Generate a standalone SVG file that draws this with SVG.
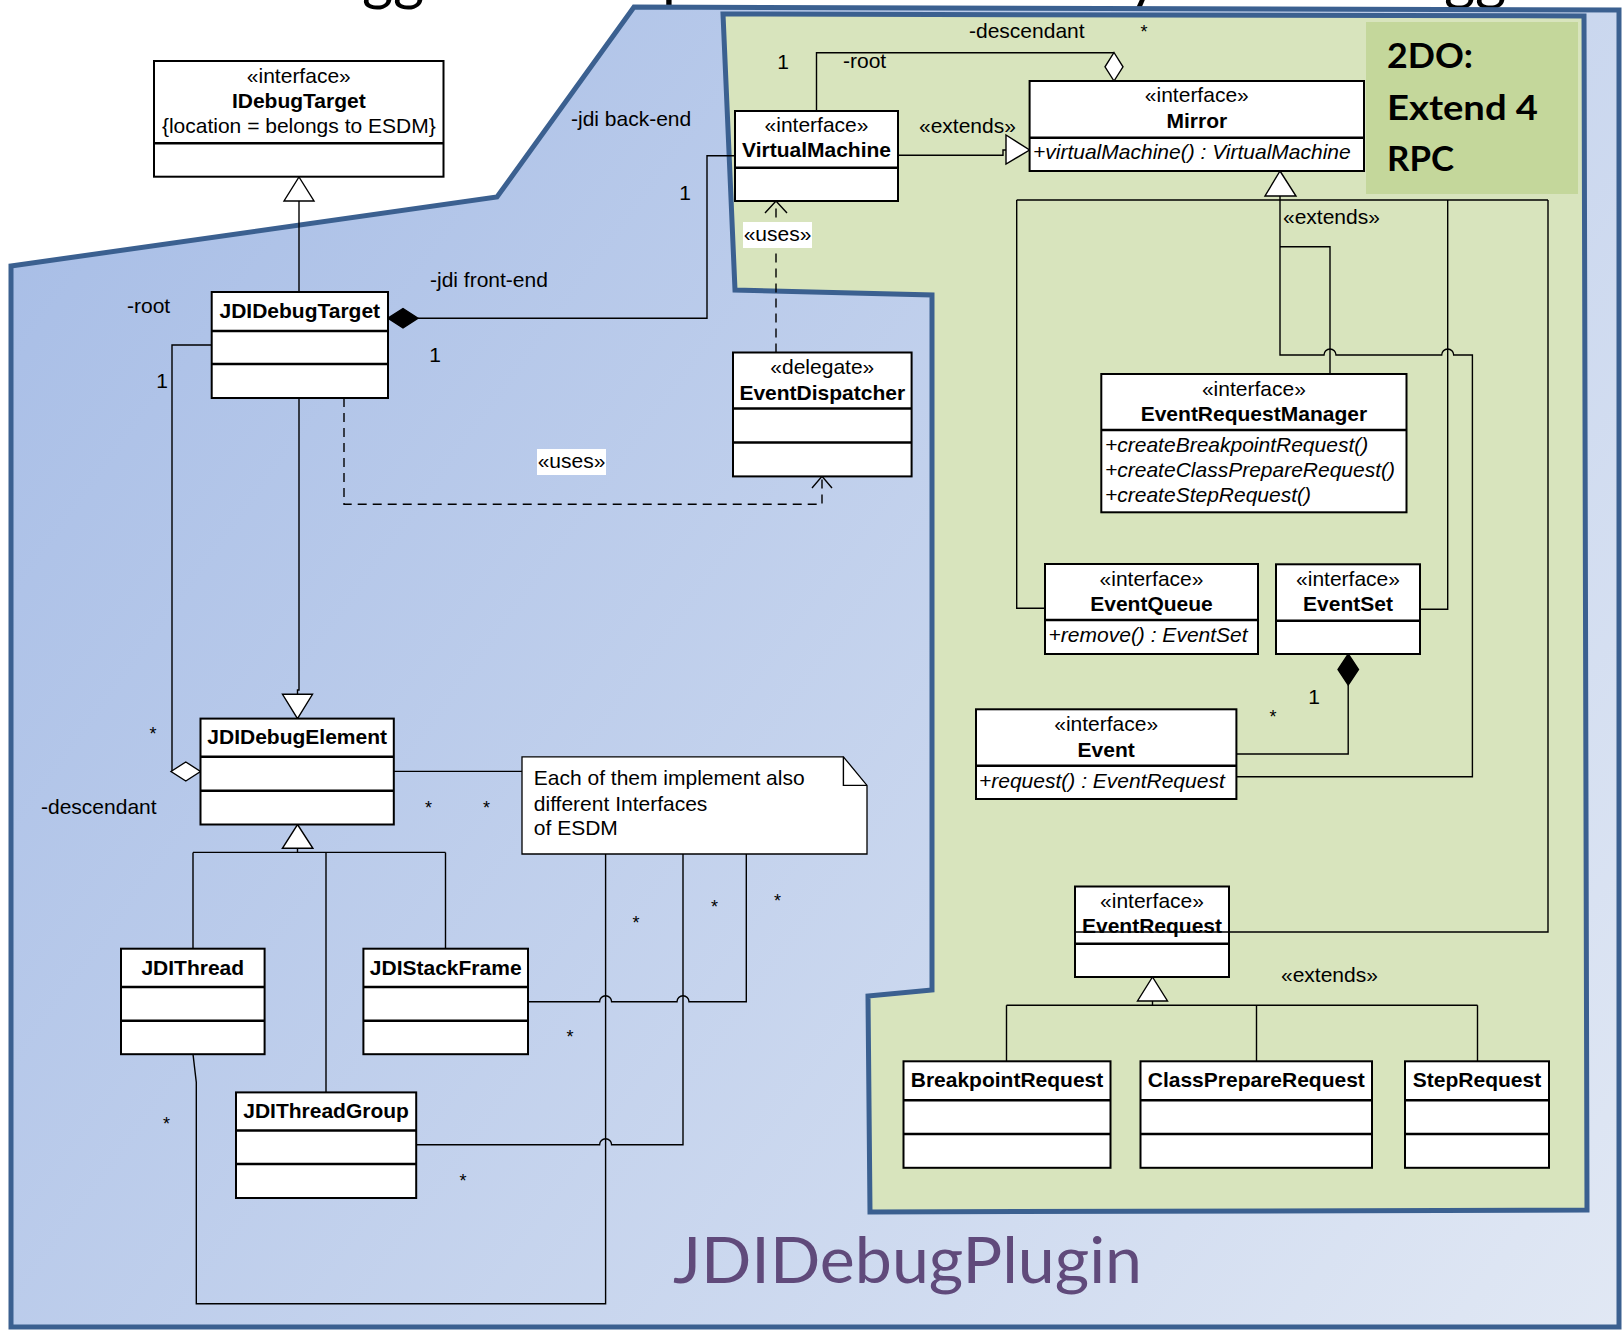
<svg xmlns="http://www.w3.org/2000/svg" width="1623" height="1330" viewBox="0 0 1623 1330">
  <defs>
    <linearGradient id="pkgBlue" gradientUnits="userSpaceOnUse" x1="0" y1="150" x2="1623" y2="1330">
      <stop offset="0" stop-color="#a7bde6"/>
      <stop offset="1" stop-color="#e1e8f4"/>
    </linearGradient>
    <style>
      .t{font-family:"Liberation Sans",Arial,Helvetica,sans-serif;font-size:21px;fill:#000}
      .b{font-weight:bold}
      .i{font-style:italic}
      .m{text-anchor:middle}
      .star{font-size:18px}
      .box{fill:#fff;stroke:#000;stroke-width:2}
      .sep{stroke:#000;stroke-width:2.5}
      .ln{fill:none;stroke:#000;stroke-width:1.4}
      .dash{stroke-dasharray:9 6}
      .hollow{fill:#fff;stroke:#000;stroke-width:1.4}
      .solid{fill:#000;stroke:#000;stroke-width:1.4}
      .pkg{stroke:#3b6090;stroke-width:5;stroke-linejoin:miter}
      .lab{fill:#fff}
      .big{font-family:Lato,"Open Sans",sans-serif}
    </style>
  </defs>

  <rect width="1623" height="1330" fill="#fff"/>

  <!-- heading, clipped by the top edge -->
  <g id="title" class="big" font-size="60" fill="#000">
    <text x="362" y="-1">gg</text>
    <text x="662" y="-1">p</text>
    <text x="1128" y="-1">y</text>
    <text x="1444" y="-1">gg</text>
  </g>

  <!-- packages -->
  <g id="packages">
    <path class="pkg" fill="url(#pkgBlue)" d="M11,266 L497,197 L634,7 L1619,10 L1619,1327 L11,1327 Z"/>
    <path class="pkg" fill="#d8e4bd" d="M723,14 L735,290 L932,295 L932,990 L868,996 L870,1212 L1587,1210 L1584,16 Z"/>
    <rect x="1366" y="22" width="212" height="172" fill="#c4d79b"/>
    <g class="big" font-weight="bold" font-size="35" fill="#000">
      <text x="1387" y="68" textLength="86" lengthAdjust="spacingAndGlyphs">2DO:</text>
      <text x="1387" y="120" textLength="151" lengthAdjust="spacingAndGlyphs">Extend 4</text>
      <text x="1387" y="171" textLength="67" lengthAdjust="spacingAndGlyphs">RPC</text>
    </g>
    <text class="big" x="673" y="1283" font-size="64" fill="#604a7b" textLength="469" lengthAdjust="spacingAndGlyphs">JDIDebugPlugin</text>
  </g>

  <!-- connectors -->
  <g id="connectors">
    <!-- JDIDebugTarget extends IDebugTarget -->
    <path class="ln" d="M299,292 V201"/>
    <path class="hollow" d="M299,177 L314,201 L284,201 Z"/>

    <!-- JDIDebugTarget composed with VirtualMachine -->
    <path class="ln" d="M418,318.2 H707 V155.7 H735"/>
    <path class="solid" d="M388,318.2 L403,308.5 L418,318.2 L403,328 Z"/>

    <!-- JDIDebugTarget extends JDIDebugElement -->
    <path class="ln" d="M299,398 V690 H297.5 V694.3"/>
    <path class="hollow" d="M297.5,718.6 L312.5,694.3 L282.5,694.3 Z"/>

    <!-- JDIDebugTarget uses EventDispatcher -->
    <path class="ln dash" d="M344,398 V504.3 H822 V478"/>
    <path class="ln" d="M812,488 L822,476.4 L832,488"/>

    <!-- EventDispatcher uses VirtualMachine -->
    <path class="ln dash" d="M776,352.5 V203"/>
    <path class="ln" d="M765,213 L776,201 L787,213"/>

    <!-- root / descendant aggregation -->
    <path class="ln" d="M211.7,345 H172 V771.5"/>
    <path class="hollow" d="M171,771.5 L185.8,762 L200.5,771.5 L185.8,781 Z"/>

    <!-- note anchor -->
    <path class="ln" d="M393.8,771.4 H522"/>

    <!-- JDIDebugElement subclasses -->
    <path class="hollow" d="M297.5,824.5 L312.9,848.3 L282.4,848.3 Z"/>
    <path class="ln" d="M297.5,848.3 V852.4 M193,852.4 H445.5 M193,852.4 V948.7 M445.5,852.4 V948.7 M326,852.4 V1092.4"/>

    <!-- ESDM interface links -->
    <path class="ln" d="M746.3,854 V1001.8 H689 A6,6 0 0 0 677,1001.8 H611.6 A6,6 0 0 0 599.6,1001.8 H528"/>
    <path class="ln" d="M683,854 V1144.8 H611.6 A6,6 0 0 0 599.6,1144.8 H416.2"/>
    <path class="ln" d="M605.6,854 V1303.7 H196.3 V1082.3 L193,1054.2"/>

    <!-- Mirror root / descendant aggregation -->
    <path class="ln" d="M816.5,111 V52.7 H1114"/>
    <path class="hollow" d="M1114,52.5 L1123,66.8 L1114,81 L1105,66.8 Z"/>

    <!-- VirtualMachine extends Mirror -->
    <path class="ln" d="M898,155.3 H1003 V150 H1006"/>
    <path class="hollow" d="M1006,135 L1029.6,150 L1006,164 Z"/>

    <!-- Mirror subinterfaces -->
    <path class="hollow" d="M1280,171 L1296,196 L1265,196 Z"/>
    <path class="ln" d="M1016.7,200 H1548 M1016.7,200 V608.3 H1045 M1447.7,200 V609.3 H1420 M1548,200 V932 H1229"/>
    <path class="ln" d="M1280,196 V355 H1324 A6,6 0 0 1 1336,355 H1441.7 A6,6 0 0 1 1453.7,355 H1472.4 V776.7 H1236.4"/>
    <path class="ln" d="M1280,246.7 H1330 V374"/>

    <!-- EventSet composed of Event -->
    <path class="ln" d="M1348.2,685 V754 H1236.4"/>
    <path class="solid" d="M1348.2,654 L1358.5,669.5 L1348.2,685 L1338,669.5 Z"/>

    <!-- EventRequest subclasses -->
    <path class="hollow" d="M1152.5,977 L1167.5,1001 L1137.5,1001 Z"/>
    <path class="ln" d="M1152.5,1001 V1005.2 M1006.5,1005.2 H1477.5 M1006.5,1005.2 V1061.3 M1256.5,1005.2 V1061.3 M1477.5,1005.2 V1061.3"/>

    <!-- role names, multiplicities, stereotypes -->
    <g class="t">
      <text x="571" y="126">-jdi back-end</text>
      <text x="430" y="287">-jdi front-end</text>
      <text x="127" y="313">-root</text>
      <text class="m" x="685" y="200">1</text>
      <text class="m" x="435" y="362">1</text>
      <text class="m" x="162" y="388">1</text>
      <text x="41" y="814">-descendant</text>
      <text class="m" x="783" y="69">1</text>
      <text x="843" y="68">-root</text>
      <text x="969" y="38">-descendant</text>
      <text x="919" y="133">«extends»</text>
      <text x="1283" y="224">«extends»</text>
      <text x="1281" y="982">«extends»</text>
      <text class="m" x="1314" y="704">1</text>
      <rect class="lab" x="743" y="222" width="69" height="26"/>
      <text class="m" x="777.5" y="241">«uses»</text>
      <rect class="lab" x="537" y="449" width="69" height="26"/>
      <text class="m" x="571.5" y="468">«uses»</text>
      <g class="m star">
        <text x="1144" y="38">*</text>
        <text x="153" y="740">*</text>
        <text x="428.5" y="814">*</text>
        <text x="486.5" y="814">*</text>
        <text x="636" y="929">*</text>
        <text x="714.5" y="913">*</text>
        <text x="777.5" y="907">*</text>
        <text x="570" y="1043">*</text>
        <text x="166.5" y="1130">*</text>
        <text x="463" y="1187">*</text>
        <text x="1273" y="723">*</text>
      </g>
    </g>
  </g>

  <!-- classes and interfaces -->
  <g id="IDebugTarget">
    <rect class="box" x="154" y="61" width="289.5" height="115.7"/>
    <line class="sep" x1="154" y1="143.3" x2="443.5" y2="143.3"/>
    <text class="t m" x="298.8" y="83">«interface»</text>
    <text class="t m b" x="298.8" y="108">IDebugTarget</text>
    <text class="t m" x="298.8" y="133">{location = belongs to ESDM}</text>
  </g>

  <g id="JDIDebugTarget">
    <rect class="box" x="211.7" y="292" width="176.3" height="106"/>
    <line class="sep" x1="211.7" y1="331" x2="388" y2="331"/>
    <line class="sep" x1="211.7" y1="364" x2="388" y2="364"/>
    <text class="t m b" x="299.8" y="318">JDIDebugTarget</text>
  </g>

  <g id="VirtualMachine">
    <rect class="box" x="735" y="111" width="163" height="90"/>
    <line class="sep" x1="735" y1="167.7" x2="898" y2="167.7"/>
    <text class="t m" x="816.5" y="132">«interface»</text>
    <text class="t m b" x="816.5" y="157">VirtualMachine</text>
  </g>

  <g id="Mirror">
    <rect class="box" x="1029.6" y="81" width="334.4" height="90"/>
    <line class="sep" x1="1029.6" y1="137.7" x2="1364" y2="137.7"/>
    <text class="t m" x="1196.8" y="102">«interface»</text>
    <text class="t m b" x="1196.8" y="128">Mirror</text>
    <text class="t i" x="1033" y="159">+virtualMachine() : VirtualMachine</text>
  </g>

  <g id="EventDispatcher">
    <rect class="box" x="733" y="352.5" width="178.6" height="123.9"/>
    <line class="sep" x1="733" y1="408.6" x2="911.6" y2="408.6"/>
    <line class="sep" x1="733" y1="442.5" x2="911.6" y2="442.5"/>
    <text class="t m" x="822.3" y="374">«delegate»</text>
    <text class="t m b" x="822.3" y="400">EventDispatcher</text>
  </g>

  <g id="EventRequestManager">
    <rect class="box" x="1101.3" y="374" width="305.2" height="138.3"/>
    <line class="sep" x1="1101.3" y1="430" x2="1406.5" y2="430"/>
    <text class="t m" x="1253.9" y="396">«interface»</text>
    <text class="t m b" x="1253.9" y="421">EventRequestManager</text>
    <text class="t i" x="1105" y="452">+createBreakpointRequest()</text>
    <text class="t i" x="1105" y="477">+createClassPrepareRequest()</text>
    <text class="t i" x="1105" y="502">+createStepRequest()</text>
  </g>

  <g id="EventQueue">
    <rect class="box" x="1045" y="564" width="213" height="90"/>
    <line class="sep" x1="1045" y1="620" x2="1258" y2="620"/>
    <text class="t m" x="1151.5" y="586">«interface»</text>
    <text class="t m b" x="1151.5" y="611">EventQueue</text>
    <text class="t i" x="1048.6" y="642">+remove() : EventSet</text>
  </g>

  <g id="EventSet">
    <rect class="box" x="1276" y="564.3" width="144" height="89.7"/>
    <line class="sep" x1="1276" y1="620.7" x2="1420" y2="620.7"/>
    <text class="t m" x="1348" y="586">«interface»</text>
    <text class="t m b" x="1348" y="611">EventSet</text>
  </g>

  <g id="Event">
    <rect class="box" x="976" y="709.3" width="260.4" height="89.7"/>
    <line class="sep" x1="976" y1="765.7" x2="1236.4" y2="765.7"/>
    <text class="t m" x="1106.2" y="731">«interface»</text>
    <text class="t m b" x="1106.2" y="757">Event</text>
    <text class="t i" x="979" y="788">+request() : EventRequest</text>
  </g>

  <g id="EventRequest">
    <rect class="box" x="1075" y="886.5" width="154" height="90.5"/>
    <line class="ln" x1="1075" y1="932" x2="1229" y2="932"/>
    <line class="sep" x1="1075" y1="943.7" x2="1229" y2="943.7"/>
    <text class="t m" x="1152" y="908">«interface»</text>
    <text class="t m b" x="1152" y="933">EventRequest</text>
  </g>

  <g id="BreakpointRequest">
    <rect class="box" x="903.5" y="1061.3" width="207" height="106.5"/>
    <line class="sep" x1="903.5" y1="1100.2" x2="1110.5" y2="1100.2"/>
    <line class="sep" x1="903.5" y1="1134" x2="1110.5" y2="1134"/>
    <text class="t m b" x="1007" y="1087">BreakpointRequest</text>
  </g>

  <g id="ClassPrepareRequest">
    <rect class="box" x="1140.5" y="1061.3" width="231.5" height="106.5"/>
    <line class="sep" x1="1140.5" y1="1100.2" x2="1372" y2="1100.2"/>
    <line class="sep" x1="1140.5" y1="1134" x2="1372" y2="1134"/>
    <text class="t m b" x="1256.3" y="1087">ClassPrepareRequest</text>
  </g>

  <g id="StepRequest">
    <rect class="box" x="1405" y="1061.3" width="144" height="106.5"/>
    <line class="sep" x1="1405" y1="1100.2" x2="1549" y2="1100.2"/>
    <line class="sep" x1="1405" y1="1134" x2="1549" y2="1134"/>
    <text class="t m b" x="1477" y="1087">StepRequest</text>
  </g>

  <g id="JDIDebugElement">
    <rect class="box" x="200.5" y="718.6" width="193.3" height="105.9"/>
    <line class="sep" x1="200.5" y1="756.8" x2="393.8" y2="756.8"/>
    <line class="sep" x1="200.5" y1="790.7" x2="393.8" y2="790.7"/>
    <text class="t m b" x="297.2" y="744">JDIDebugElement</text>
  </g>

  <g id="ESDMNote">
    <path fill="#fff" stroke="#000" stroke-width="1.3" d="M522,756.8 H843.4 L867,785.4 V854 H522 Z"/>
    <path class="ln" stroke-width="1.3" d="M843.4,756.8 V785.4 H867"/>
    <text class="t" x="533.8" y="785">Each of them implement also</text>
    <text class="t" x="533.8" y="811">different Interfaces</text>
    <text class="t" x="533.8" y="835">of ESDM</text>
  </g>

  <g id="JDIThread">
    <rect class="box" x="121" y="948.7" width="143.6" height="105.5"/>
    <line class="sep" x1="121" y1="987" x2="264.6" y2="987"/>
    <line class="sep" x1="121" y1="1020.8" x2="264.6" y2="1020.8"/>
    <text class="t m b" x="192.8" y="974.5">JDIThread</text>
  </g>

  <g id="JDIStackFrame">
    <rect class="box" x="363.4" y="948.7" width="164.6" height="105.5"/>
    <line class="sep" x1="363.4" y1="987" x2="528" y2="987"/>
    <line class="sep" x1="363.4" y1="1020.8" x2="528" y2="1020.8"/>
    <text class="t m b" x="445.7" y="974.5">JDIStackFrame</text>
  </g>

  <g id="JDIThreadGroup">
    <rect class="box" x="236" y="1092.4" width="180.2" height="105.6"/>
    <line class="sep" x1="236" y1="1130.6" x2="416.2" y2="1130.6"/>
    <line class="sep" x1="236" y1="1164" x2="416.2" y2="1164"/>
    <text class="t m b" x="326.1" y="1118">JDIThreadGroup</text>
  </g>
</svg>
